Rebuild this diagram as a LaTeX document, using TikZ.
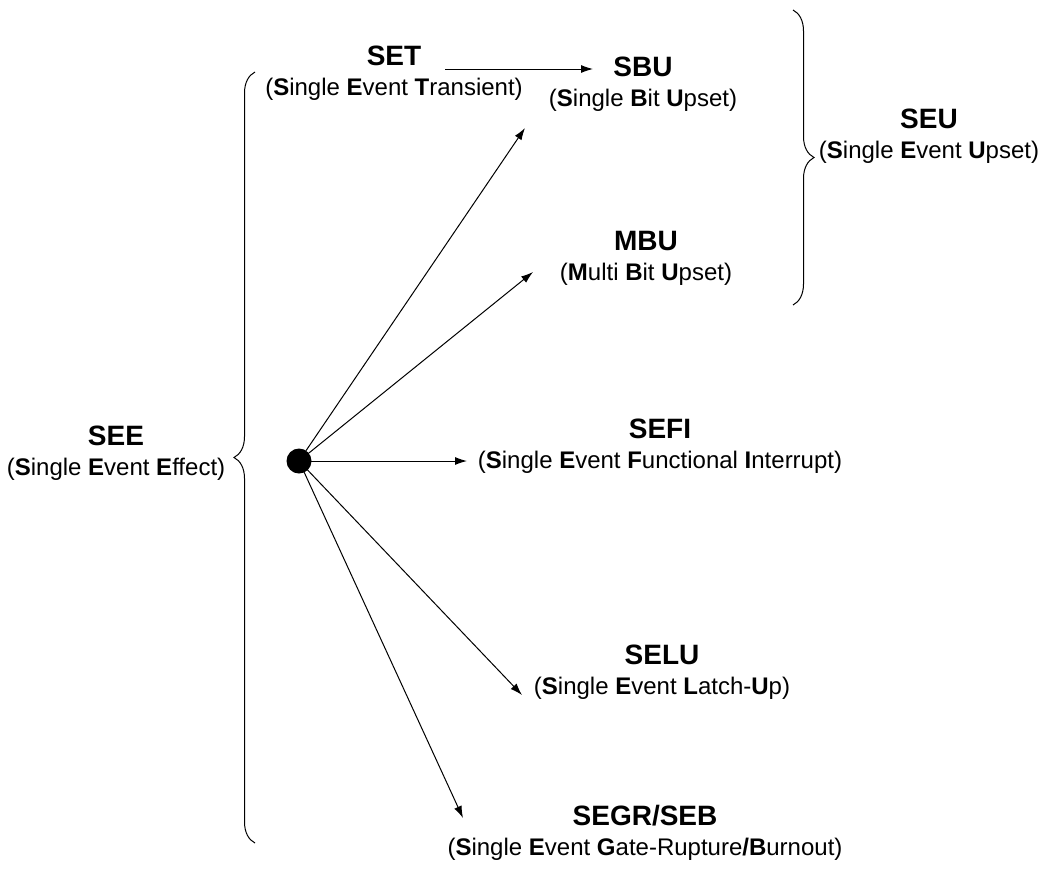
\documentclass[tikz,border=0pt]{standalone}
\usepackage{fontspec}
\setmainfont{Liberation Sans}
\usepackage{tikz}
\usetikzlibrary{arrows.meta,decorations.pathreplacing}
\tikzset{>={Latex[length=6pt,width=4pt]}}
\tikzset{
  lbl/.style={align=center,font=\fontsize{12}{15}\selectfont,inner sep=0pt},
  brc/.style={decorate,decoration={brace,amplitude=10.5pt}}
}
\newcommand{\ttl}[1]{{\fontsize{14}{15}\selectfont\bfseries #1}}

\begin{document}
\begin{tikzpicture}[x=0.5pt,y=-0.5pt,line width=0.5pt]
  \useasboundingbox (0,0) rectangle (1043,868);
  \node[lbl] (see) at (116,453) {\ttl{SEE}\\(\textbf{S}ingle \textbf{E}vent \textbf{E}ffect)};
  \node[lbl] (set) at (394,73) {\ttl{SET}\\(\textbf{S}ingle \textbf{E}vent \textbf{T}ransient)};
  \node[lbl] (sbu) at (643,84) {\ttl{SBU}\\(\textbf{S}ingle \textbf{B}it \textbf{U}pset)};
  \node[lbl] (mbu) at (646,258) {\ttl{MBU}\\(\textbf{M}ulti \textbf{B}it \textbf{U}pset)};
  \node[lbl] (sefi) at (660,446) {\ttl{SEFI}\\(\textbf{S}ingle \textbf{E}vent \textbf{F}unctional \textbf{I}nterrupt)};
  \node[lbl] (selu) at (662,672) {\ttl{SELU}\\(\textbf{S}ingle \textbf{E}vent \textbf{L}atch-\textbf{U}p)};
  \node[lbl] (segr) at (645,833) {\ttl{SEGR/SEB}\\(\textbf{S}ingle \textbf{E}vent \textbf{G}ate-Rupture\textbf{/B}urnout)};
  \node[lbl] (seu) at (929,136) {\ttl{SEU}\\(\textbf{S}ingle \textbf{E}vent \textbf{U}pset)};
  \node[circle,fill=black,minimum size=12.5pt,inner sep=0pt] (dot) at (299,461) {};
  % arrow ends
  \coordinate (setout) at (445,69);
  \coordinate (sbuin) at (593,69);
  \coordinate (sbutip) at (525,128);
  \coordinate (mbutip) at (533,272);
  \coordinate (sefitip) at (467,461);
  \coordinate (selutip) at (522,695);
  \coordinate (segrtip) at (463,818);
  \draw[->] (setout) -- (sbuin);
  \draw[->] (dot.center) -- (sbutip);
  \draw[->] (dot.center) -- (mbutip);
  \draw[->] (dot.center) -- (sefitip);
  \draw[->] (dot.center) -- (selutip);
  \draw[->] (dot.center) -- (segrtip);
  % braces
  \draw[brc] (255,843) -- (255,72);
  \draw[brc] (793,10) -- (793,305);
\end{tikzpicture}
\end{document}
